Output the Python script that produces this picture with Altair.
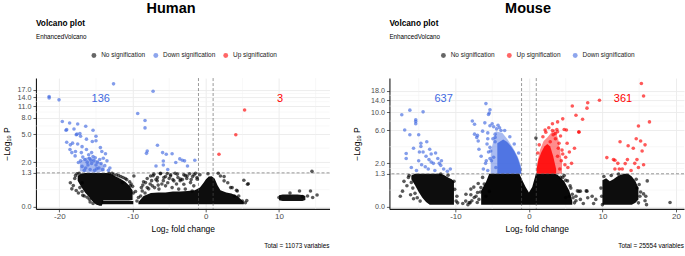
import altair as alt
import pandas as pd

FONT = "Liberation Sans"
BLUE = "#4169E1"
RED = "#FF0000"

# ---------------- Human ----------------
h_no = [(-18.1,0.68),(-17.7,0.49),(-17.4,0.40),(-16.8,0.32),(-16.2,0.26),(-17.9,1.00),(-17.6,1.25),
        (-16.9,0.80),(-18.3,0.55),(-15.9,0.20),(-12.8,1.28),(-12.2,1.20),(-11.6,1.10),(-11.0,1.00),
        (-10.4,0.85),(-10.0,0.65),(-9.9,0.40),(-9.6,0.45),(-9.2,0.25),(-8.8,0.60),(-8.5,0.85),
        (-8.3,0.40),(-8.0,1.00),(-7.8,0.55),(-7.6,0.75),(-7.2,1.15),(-6.8,0.95),(-6.5,0.70),
        (-6.2,1.25),(-5.8,0.90),(-5.5,1.10),(-5.2,0.80),(-4.8,1.20),(-4.5,0.95),(-4.2,1.28),
        (-3.8,1.05),(-3.5,0.90),(-3.0,1.20),(-2.6,1.00),(-2.2,1.25),(-1.8,1.10),(-1.4,1.28),
        (-8.6,0.70),(-7.4,0.90),(-7.0,0.60),(-6.6,1.05),(-6.0,0.75),(-5.0,1.00),(-4.0,0.75),
        (-3.2,0.95),(-2.8,1.15),(-2.0,0.95),(-1.6,1.20),(-1.2,1.05),(-0.8,1.20),(-9.4,0.15),
        (-8.9,0.30),(0.3,1.25),(1.7,1.28),(2.5,1.10),(3.0,0.80),(3.6,0.60),(4.2,0.50),(5.2,0.92),
        (5.8,0.76),(4.5,0.30),(5.0,0.15),(5.4,0.10),(12.8,0.47),(14.3,0.47),(15.2,0.33),(14.5,1.40),
        (13.9,0.30),(14.6,0.25),(10.0,0.25),(13.2,0.28),(11.5,0.40),
        (-8.23,0.81),(-7.54,1.13),(-7.09,1.23),(-6.63,0.89),(-6.18,1.28),(-5.73,1.05),(-5.27,1.27),
        (-4.82,1.13),(-4.36,0.89),(-3.9,1.23),(-3.45,0.97),(-3.0,0.74),(-2.55,1.13),(-2.09,0.81),
        (-1.64,0.67),(-1.17,0.97),(-8.68,0.47),(-8.0,0.60),(-7.3,0.67),(-6.4,0.54),(-5.5,0.67),
        (-4.6,0.60),(-3.7,0.54),(-2.8,0.54),(-1.86,0.47),(-9.82,1.13),(-11.4,0.81),(-10.3,0.67),
        (2.0,1.13),(2.5,0.89),(3.4,0.60),(4.3,0.47),(5.7,0.74),(3.9,0.30),(5.6,0.16),
        (-17.8,1.15),(-17.3,1.28),(-16.9,0.45),(-16.6,0.30),(-15.8,0.12),(-15.4,0.08),(-18.5,0.80),
        (-17.2,0.60),(-13.2,1.28),(-12.6,1.20),(-11.9,1.15),(-11.3,1.05),(-10.8,0.95),(-10.2,0.75)]
h_down = [(-12.6,19.8),(-21.4,14.2),(-21.4,13.7),(-20.05,13.0),(-7.2,16.3),(-9.3,9.0),(-8.3,7.4),
          (-8.3,6.0),(-6.6,3.55),(-8.0,2.96),(-8.1,2.73),(-5.9,2.8),(-5.4,2.65),(-4.6,2.7),(-5.8,2.09),
          (-3.55,2.25),(-3.2,2.15),(-6.8,1.73),(-4.1,1.97),(-1.5,2.15),(-2.5,1.73),(-5.2,1.5),(-2.9,2.1),
          (-5.8,1.8),(-19.6,7.2),(-18.6,6.9),(-17.5,6.7),(-19.0,5.7),(-18.0,5.8),(-16.4,6.3),(-15.4,5.6),
          (-17.2,5.1),(-17.7,4.9),(-15.0,4.7),(-16.3,4.3),(-15.5,4.0),(-15.0,4.1),(-18.2,3.8),(-17.5,3.7),
          (-16.9,3.4),(-14.4,3.3),(-14.2,2.9),(-18.55,3.1),(-17.8,2.9),(-18.3,2.8),(-16.3,3.1),(-15.6,2.8),
          (-13.7,2.7),(-17.85,2.5),(-17.4,1.97),(-13.1,1.6),(-16.8,2.4),(-16.5,2.2),(-16.2,2.0),(-15.9,2.3),
          (-15.6,1.9),(-15.3,2.1),(-15.0,1.8),(-14.8,2.0),(-14.6,1.6),(-14.3,1.9),(-14.1,1.5),(-16.9,1.7),
          (-16.4,1.6),(-15.8,1.5),(-15.2,1.45),(-13.8,1.75),(-13.5,2.1),(-17.1,2.1),(-16.0,2.6),(-15.4,2.45),
          (-16.6,1.45),(-15.1,2.35),(-14.5,2.2),(-17.0,2.8),(-16.1,1.8),(-15.7,2.15),(-14.9,1.55),(-14.0,2.3),
          (-13.3,1.45),(-19.1,5.6),(-17.6,5.0),(-17.1,4.7),(-19.0,3.9),(-18.5,3.6)]
h_up = [(5.3,9.9),(4.1,4.9),(1.8,2.65)]

# dense clouds: fold change, upper and lower -log10 P
h_c1_fc  = [-17.5,-17.0,-16.5,-16.0,-15.5,-15.0,-14.5,-14.2,-14.0,-13.5,-13.0,-12.5,-12.0,-11.5,-11.0,-10.5,-10.0]
h_c1_top = [1.15,1.27,1.3,1.3,1.3,1.3,1.3,1.3,1.3,1.3,1.25,1.15,1.05,0.95,0.85,0.7,0.5]
h_c1_bot = [0.9,0.62,0.42,0.28,0.14,0.05,0.02,0.02,0.165,0.165,0.165,0.165,0.165,0.165,0.165,0.165,0.18]
h_bar_fc  = [-14.2,-9.9]
h_bar_top = [0.145,0.145]
h_bar_bot = [0.06,0.06]
h_c2_fc  = [-9.2,-8.5,-7.5,-6.5,-5.5,-4.5,-3.5,-2.5,-1.5,-0.8,-0.3,0.0,0.4,0.8,1.2,1.6,2.0,2.8,3.5,4.3,5.2]
h_c2_top = [0.12,0.3,0.4,0.42,0.42,0.45,0.45,0.47,0.5,0.6,0.8,0.95,1.1,1.12,1.0,0.7,0.5,0.42,0.38,0.3,0.12]
h_c2_bot = [0.06]*21
h_c3_fc  = [10.0,10.5,11.5,12.5,13.2,13.6]
h_c3_top = [0.32,0.35,0.35,0.35,0.33,0.3]
h_c3_bot = [0.17,0.15,0.15,0.15,0.15,0.18]
h_b1_fc  = [-17.2,-16.6,-16.0,-15.4,-14.8,-14.2,-13.8]
h_b1_top = [2.0,2.3,2.4,2.35,2.1,1.9,1.6]
h_b1_bot = [1.4,1.35,1.33,1.33,1.33,1.36,1.4]

h_ybreaks = [0, 1.3, 2, 5, 8, 11, 14, 17]
h_yminor = [0.52, 1.63, 3.24, 6.35, 9.35, 12.4, 15.4]
h_xbreaks = [-20, -10, 0, 10]
h_xminor = [-15, -5, 5, 15]
h_counts = [("136", -14.35, 13.3, BLUE), ("3", 10.15, 13.3, RED)]

# ---------------- Mouse ----------------
m_no = [(-17.2,0.48),(-16.1,0.35),(-15.7,0.22),(-17.0,0.90),(-16.4,1.10),(-9.8,0.30),(-9.7,0.10),
        (-8.6,0.15),(-8.3,0.05),(-8.0,0.10),(-7.5,0.64),(-7.2,0.30),(-6.8,0.20),(-6.6,0.45),(-7.9,0.35),
        (-9.0,0.08),(-10.2,0.9),(0.95,4.7),(5.5,0.30),(6.0,0.25),(6.6,0.49),(7.8,0.49),(6.4,0.30),
        (7.0,0.20),(8.0,0.25),(8.6,0.30),(7.0,0.48),(7.9,0.48),(9.1,0.20),(6.2,0.10),(7.4,0.08),
        (8.8,0.08),(16.1,0.92),(15.9,0.30),(16.0,0.05),(19.2,0.11),(15.6,0.38),(15.8,0.16),(14.7,0.60),
        (15.2,0.45),(10.0,0.05),(4.6,1.1),(5.0,0.95),(5.6,0.7),(-6.3,1.1),(-6.9,0.8),
        (-8.57,0.37),(-7.9,0.56),(-7.44,0.26),(-6.99,0.43),(-6.53,0.62),(-6.08,0.77),(-5.85,0.30),
        (-5.4,0.47),(-8.12,0.11),(-7.03,0.11),(-7.76,0.16),(5.25,0.92),(5.7,0.60),(5.9,0.37),
        (6.4,0.16),(6.8,0.47),(5.0,0.26),(4.3,1.10),(4.8,1.20),(-16.3,1.20),(-16.0,0.85),(-15.8,0.60),
        (-15.5,0.40),(-15.2,0.25),(-14.8,0.15),(-16.6,0.70),(-17.5,0.30),(9.8,0.60),(9.9,0.30),
        (10.2,1.15),(11.2,1.20),(12.2,1.28),(14.6,1.00),(15.0,0.75),(15.1,0.30),(14.9,0.10),
        (-10.1,0.55),(-9.9,0.15),(-12.0,1.28),(-11.0,1.22)]
m_down = [(-17.3,9.3),(-16.2,10.6),(-14.4,10.1),(-15.4,8.1),(-15.4,7.7),(-15.4,7.2),(-16.9,6.0),
          (-16.2,5.2),(-15.0,5.2),(-14.7,4.0),(-14.7,3.6),(-13.9,4.2),(-15.7,3.4),(-14.4,3.0),(-13.3,2.8),
          (-16.7,2.85),(-16.7,2.4),(-15.0,2.2),(-13.6,2.3),(-13.3,2.1),(-13.0,2.0),(-12.4,2.4),(-12.2,2.0),
          (-12.0,1.85),(-14.6,1.9),(-14.1,1.75),(-13.7,1.6),(-11.6,1.6),(-11.1,1.45),(-10.7,1.6),(-15.3,1.5),
          (-16.0,1.7),(-12.8,1.5),(-14.0,2.6),(-13.5,3.3),(-12.7,2.9),(-11.9,2.2),(-14.9,3.0),
          (-5.85,12.7),(-5.4,9.8),(-5.5,9.4),(-5.3,10.7),(-7.7,7.8),(-7.4,7.1),(-6.0,7.4),(-5.3,6.8),
          (-5.0,7.2),(-7.4,5.3),(-7.1,4.8),(-6.9,4.3),(-6.8,3.3),(-5.3,3.5),(-5.2,3.1),(-5.8,2.2),(-5.9,2.0),
          (-5.3,2.4),(-5.1,2.2),(-6.2,1.6),(-5.6,1.5),(-4.8,6.6),(-4.4,6.2),(-4.2,6.9),(-3.8,5.9),(-5.6,4.6),
          (-6.3,5.8),(-4.6,4.2),(-6.5,2.6),(-5.7,3.9),(-4.9,4.6),(-4.6,5.3),(-4.0,6.4),(-3.3,5.9),(-2.6,4.9),
          (-2.0,3.9),(-1.4,2.9),(-5.5,3.0),(-4.8,2.5),(-4.5,1.7),(-7.0,5.1),(-5.6,5.5),(-4.6,4.8)]
m_up = [(15.3,21.8),(15.6,15.6),(16.4,7.6),(14.9,6.75),(14.6,4.6),(15.2,4.3),(15.8,3.8),(12.4,4.2),
        (13.5,3.7),(14.2,3.4),(15.4,3.1),(10.6,2.47),(11.5,2.3),(11.7,2.25),(13.4,2.3),(13.1,1.98),
        (12.3,1.6),(14.7,2.3),(15.6,1.9),(14.9,1.7),(11.7,1.6),(12.7,1.6),(13.9,1.5),(14.4,2.0),(12.1,2.0),
        (5.9,11.9),(8.0,13.0),(9.6,13.9),(7.9,11.2),(6.4,9.2),(7.3,8.2),(4.6,8.3),(3.8,6.1),(4.8,6.1),
        (5.1,6.0),(6.8,5.7),(5.2,4.0),(4.1,4.0),(3.6,4.6),(2.9,4.2),(4.5,3.2),(5.5,3.0),(3.9,2.6),(4.4,2.2),
        (5.0,2.5),(5.8,2.0),(4.2,1.6),(5.3,1.7),(6.2,3.4),(3.3,5.2),(4.3,5.0),(1.4,3.8),(1.9,4.9),(2.3,5.6),
        (2.7,6.4),(3.2,7.2),(3.6,5.4),(4.0,3.4),(4.6,2.8),(4.9,1.9),(2.2,6.0),(1.2,2.9),(3.9,7.6),(3.2,5.9),
        (3.9,5.7),(6.8,5.6)]

m_cA_fc  = [-16.0,-15.5,-15.0,-14.5,-14.0,-13.5,-13.0,-12.5,-12.0,-11.5,-11.0,-10.5,-10.2]
m_cA_top = [1.2,1.3,1.3,1.3,1.3,1.3,1.3,1.3,1.3,1.22,1.1,1.0,0.9]
m_cA_bot = [1.0,0.72,0.45,0.25,0.12,0.05,0.05,0.05,0.05,0.05,0.05,0.05,0.05]
m_cB_fc  = [-6.5,-5.8,-5.4,-4.0,-3.0,-2.0,-1.3,-0.9,-0.45,0.0,0.45,0.95,2.0,3.0,3.5,3.9,4.8,5.5,5.9]
m_cB_top = [0.5,0.9,1.3,1.3,1.3,1.3,1.3,0.95,0.65,0.43,0.65,1.3,1.3,1.3,1.3,1.25,0.9,0.5,0.15]
m_cB_bot = [0.05]*19
m_cC_fc  = [10.0,10.5,11.0,11.5,12.0,12.5,13.0,13.5,14.0,14.5,14.9]
m_cC_top = [0.95,1.05,0.9,1.0,1.15,1.25,1.3,1.3,1.15,0.9,0.6]
m_cC_bot = [0.05,0.05,0.05,0.05,0.05,0.05,0.05,0.05,0.05,0.1,0.2]
m_bc_fc  = [-4.3,-3.5,-3.0,-2.5,-2.0,-1.5,-1.05]
m_bc_top = [4.0,4.5,4.2,3.7,3.1,2.4,1.6]
m_bh_fc  = [-5.2,-4.5,-3.6,-2.9,-2.2,-1.55,-1.05]
m_bh_top = [3.0,5.8,5.5,4.5,3.5,2.6,1.8]
m_rc_fc  = [1.05,1.3,1.7,2.1,2.5,2.9,3.3,3.7]
m_rc_top = [1.6,2.3,3.0,3.6,3.9,3.6,2.6,1.6]
m_rh_fc  = [1.05,1.5,2.0,2.5,3.0,3.5,4.0,4.5]
m_rh_top = [1.8,3.2,4.3,4.8,5.5,6.2,4.5,2.0]

m_ybreaks = [0, 1.3, 2, 6, 10, 14, 18]
m_yminor = [0.52, 1.63, 3.58, 7.78, 11.85, 15.9]
m_xbreaks = [-10, 0, 10, 20]
m_xminor = [-15, -5, 5, 15]
m_counts = [("637", -11.6, 14.4, BLUE), ("361", 12.8, 14.4, RED)]

P_THRESH = 1.30103
FC_THRESH = [-1, 1]


def cloud(cid, fc, top, bot, col, op):
    if not isinstance(bot, list):
        bot = [bot] * len(fc)
    return pd.DataFrame({"cid": cid, "fc": fc, "top": top, "bot": bot, "col": col, "op": op})


def points_df(no, down, up, labels):
    rows = []
    for i, grp in enumerate([no, down, up]):
        for (f, p) in grp:
            rows.append({"fc": f, "p": p, "sig": labels[i], "ord": i})
    return pd.DataFrame(rows)


def panel(name, caption, pts, clouds, counts, xdom, ydom, xbreaks, xminor, ybreaks, yminor,
          W, H, legend_order, legend_colors, legendX, colpad, titleX, yTitleX):
    xs = alt.Scale(domain=xdom, nice=False, zero=False)
    ys = alt.Scale(type="symlog", domain=ydom, nice=False, zero=False)
    xax = alt.Axis(values=xbreaks, labelExpr="'' + datum.value", grid=True, title="Log₂ fold change",
                   titleY=20, titleBaseline="middle", labelPadding=1, labelOverlap=False)
    yax = alt.Axis(values=ybreaks, format=".1f", grid=True, title="−Log₁₀ P", titleX=yTitleX,
                   titleY=H / 2, titleAlign="center", titleBaseline="middle", titleAngle=-90,
                   labelPadding=2, labelOverlap=False, labelFontSize=7.2)

    minor_x = alt.Chart(pd.DataFrame({"fc": xminor})).mark_rule(color="#F0F0F0", strokeWidth=0.5).encode(
        x=alt.X("fc:Q", scale=xs, axis=xax))
    minor_y = alt.Chart(pd.DataFrame({"p": yminor})).mark_rule(color="#F0F0F0", strokeWidth=0.5).encode(
        y=alt.Y("p:Q", scale=ys, axis=yax))
    areas = alt.Chart(clouds).mark_area(strokeWidth=0, interpolate="linear").encode(
        x=alt.X("fc:Q", scale=xs, axis=xax),
        y=alt.Y("top:Q", scale=ys, axis=yax),
        y2="bot:Q",
        detail="cid:N",
        color=alt.Color("col:N", scale=None),
        opacity=alt.Opacity("op:Q", scale=None),
    )
    pts_layer = alt.Chart(pts).mark_circle(size=13, opacity=0.65).encode(
        x=alt.X("fc:Q", scale=xs, axis=xax),
        y=alt.Y("p:Q", scale=ys, axis=yax),
        color=alt.Color("sig:N", scale=alt.Scale(domain=legend_order, range=legend_colors),
                        legend=alt.Legend(orient="none", legendX=legendX, legendY=-26, direction="horizontal",
                                          title=None, symbolType="circle", symbolSize=24, symbolOpacity=0.6,
                                          symbolStrokeWidth=0, labelFontSize=6.5, labelFont=FONT,
                                          labelColor="#222222", columnPadding=colpad, labelOffset=4,
                                          rowPadding=0, padding=0)),
        order=alt.Order("ord:Q"),
    )
    vlines = alt.Chart(pd.DataFrame({"fc": FC_THRESH})).mark_rule(
        color="#555555", strokeWidth=0.6, strokeDash=[3, 2]).encode(x=alt.X("fc:Q", scale=xs, axis=xax))
    hline = alt.Chart(pd.DataFrame({"p": [P_THRESH]})).mark_rule(
        color="#555555", strokeWidth=0.6, strokeDash=[3, 2]).encode(y=alt.Y("p:Q", scale=ys, axis=yax))
    cnt_df = pd.DataFrame(counts, columns=["label", "fc", "p", "col"])
    cnt = alt.Chart(cnt_df).mark_text(fontSize=11, font=FONT, baseline="middle", align="center").encode(
        x=alt.X("fc:Q", scale=xs, axis=xax), y=alt.Y("p:Q", scale=ys, axis=yax),
        text="label:N", color=alt.Color("col:N", scale=None))

    def txt(s, x, y, **kw):
        return alt.Chart(pd.DataFrame({"t": [s]})).mark_text(font=FONT, **kw).encode(
            text="t:N", x=alt.value(x), y=alt.value(y))

    t1 = txt(name, titleX, -64.7, fontSize=14.5, fontWeight="bold", align="center", baseline="alphabetic")
    t2 = txt("Volcano plot", 0, -52.3, fontSize=8.3, fontWeight="bold", align="left", baseline="alphabetic")
    t3 = txt("EnhancedVolcano", 0, -38.7, fontSize=6.3, align="left", baseline="alphabetic")
    t4 = txt(caption, W, 168.3, fontSize=6.4, align="right", baseline="middle")

    return alt.layer(minor_x, minor_y, areas, vlines, hline, pts_layer, cnt, t1, t2, t3, t4).properties(
        width=W, height=H)


h_labels = ["No signification", "Down signification", "Up signification"]
h_pts = points_df(h_no, h_down, h_up, h_labels)
h_clouds = pd.concat([
    cloud("c1", h_c1_fc, h_c1_top, h_c1_bot, "black", 0.95),
    cloud("bar", h_bar_fc, h_bar_top, h_bar_bot, "black", 0.95),
    cloud("c2", h_c2_fc, h_c2_top, h_c2_bot, "black", 0.95),
    cloud("c3", h_c3_fc, h_c3_top, h_c3_bot, "black", 0.92),
    cloud("b1", h_b1_fc, h_b1_top, h_b1_bot, BLUE, 0.45),
])

m_labels = ["No signification", "Down signification", "Up signification"]
m_pts = points_df(m_no, m_down, m_up, m_labels)
m_clouds = pd.concat([
    cloud("cA", m_cA_fc, m_cA_top, m_cA_bot, "black", 0.95),
    cloud("cB", m_cB_fc, m_cB_top, m_cB_bot, "black", 0.97),
    cloud("cC", m_cC_fc, m_cC_top, m_cC_bot, "black", 0.95),
    cloud("bh", m_bh_fc, m_bh_top, 1.3, BLUE, 0.45),
    cloud("bc", m_bc_fc, m_bc_top, 1.3, BLUE, 0.85),
    cloud("rh", m_rh_fc, m_rh_top, 1.3, RED, 0.45),
    cloud("rc", m_rc_fc, m_rc_top, 1.3, RED, 0.85),
])

human = panel("Human", "Total = 11073 variables", h_pts, h_clouds, h_counts,
              [-23.2, 16.9], [-0.0584, 23.0], h_xbreaks, h_xminor, h_ybreaks, h_yminor,
              294, 131, ["No signification", "Down signification", "Up signification"],
              ["#000000", BLUE, RED], 54.8, 7, 135.3, -29.4)
mouse = panel("Mouse", "Total = 25554 variables", m_pts, m_clouds, m_counts,
              [-18.98, 21.1], [-0.06, 25.2], m_xbreaks, m_xminor, m_ybreaks, m_yminor,
              295, 131, ["No signification", "Up signification", "Down signification"],
              ["#000000", RED, BLUE], 50.8, 11, 138.8, -32.7)

chart = alt.hconcat(human, mouse, spacing=22).resolve_scale(
    color="independent", x="independent", y="independent"
).resolve_legend(color="independent").properties(
    padding={"left": 2, "top": 1, "right": 0, "bottom": 0}
).configure(font=FONT).configure_view(strokeWidth=0).configure_axis(
    domainColor="#1a1a1a", domainWidth=1.1, tickColor="#333333", tickWidth=0.8, tickSize=3,
    labelColor="#4D4D4D", labelFontSize=8, labelFont=FONT, titleFont=FONT, titleFontSize=8.5,
    titleFontWeight="normal", titleColor="#000000", gridColor="#EBEBEB", gridWidth=0.9
)

chart.save("out.html", embed_options={"renderer": "svg", "actions": False})
